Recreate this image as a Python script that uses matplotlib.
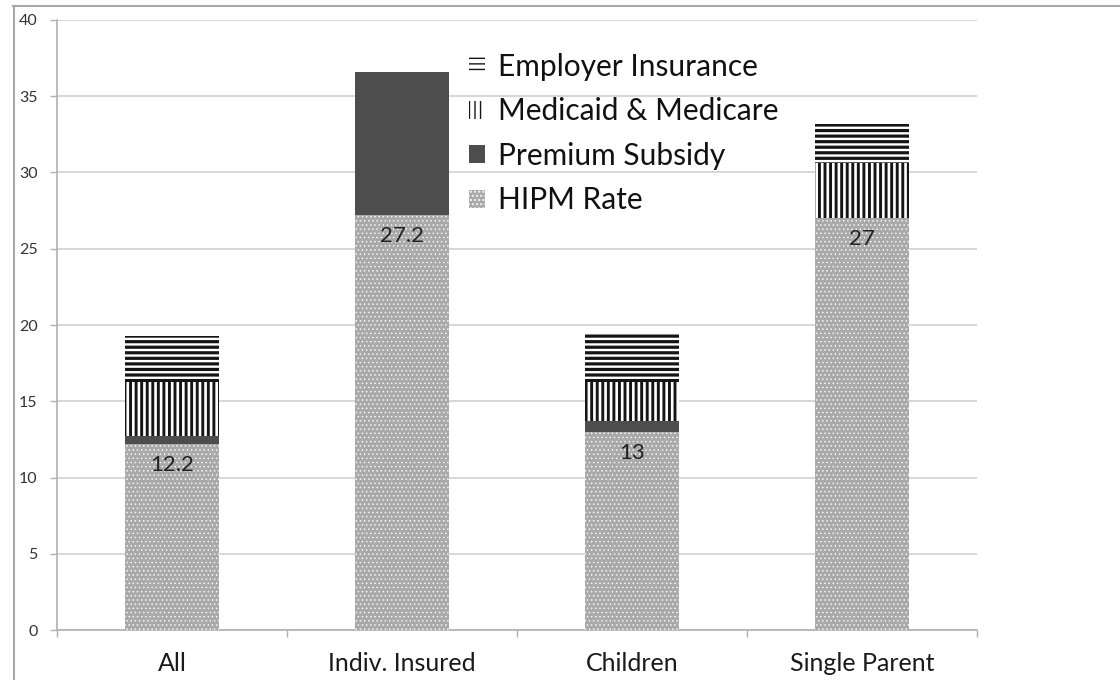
import matplotlib
matplotlib.use("Agg")
import matplotlib.pyplot as plt
from matplotlib.lines import Line2D
import numpy as np

plt.rcParams['font.family'] = ['Lato', 'DejaVu Sans']

groups = ['All', 'Indiv. Insured', 'Children', 'Single Parent']
hipm_rate = [12.2, 27.2, 13, 27]
premium_subsidy = [0.55, 9.4, 0.7, 0.0]
medicaid_medicare = [3.5, 0.0, 2.55, 3.6]
employer_insurance = [3.05, 0.0, 3.2, 2.6]

fig = plt.figure(figsize=(11.2, 6.8), dpi=100)
ax = fig.add_axes([0.0509, 0.0735, 0.8214, 0.8971])

x = np.arange(len(groups))
w = 0.405


def hatched(bars, lw):
    for b in bars:
        if hasattr(b, 'set_hatch_linewidth'):
            b.set_hatch_linewidth(lw)


bottom = np.zeros(len(groups))
b1 = ax.bar(x, hipm_rate, w, bottom=bottom, facecolor='#a9a9a9',
            edgecolor='#f4f4f4', linewidth=0, hatch='....', label='HIPM Rate', zorder=3)
hatched(b1, 0.6)
bottom += hipm_rate
b2 = ax.bar(x, premium_subsidy, w, bottom=bottom, color='#4d4d4d',
            linewidth=0, label='Premium Subsidy', zorder=3)
bottom += premium_subsidy
b3 = ax.bar(x, medicaid_medicare, w, bottom=bottom, facecolor='white',
            edgecolor='#151515', linewidth=0, hatch='|||', label='Medicaid & Medicare', zorder=3)
hatched(b3, 2.1)
bottom += medicaid_medicare
b4 = ax.bar(x, employer_insurance, w, bottom=bottom, facecolor='white',
            edgecolor='#151515', linewidth=0, hatch='---', label='Employer Insurance', zorder=3)
hatched(b4, 2.3)

for xi, v in zip(x, hipm_rate):
    ax.annotate(f'{v:g}', (xi, v), xytext=(0, -15), textcoords='offset points',
                ha='center', va='center', fontsize=16, color='#222222', zorder=4)

ax.set_ylim(0, 40)
ax.set_xlim(-0.5, 3.5)
ax.set_yticks(range(0, 41, 5))
ax.yaxis.grid(True, color='#d4d4d4', linewidth=1.3, zorder=0)
ax.tick_params(axis='y', direction='out', length=5, width=1, color='#b0b0b0',
               pad=9, labelsize=11.5, labelcolor='#333333')

ax.set_xticks([-0.5, 0.5, 1.5, 2.5, 3.5])
ax.set_xticklabels([])
ax.tick_params(axis='x', which='major', direction='out', length=5, width=1, color='#b0b0b0')
ax.set_xticks(x, minor=True)
ax.set_xticklabels(groups, minor=True)
ax.tick_params(axis='x', which='minor', length=0, pad=16, labelsize=18, labelcolor='#1a1a1a')

for side in ['top', 'right']:
    ax.spines[side].set_visible(False)
for side in ['left', 'bottom']:
    ax.spines[side].set_color('#b0b0b0')
    ax.spines[side].set_linewidth(1.2)

handles = [b4, b3, b2, b1]
ax.legend(handles, [h.get_label() for h in handles], loc='upper left',
          bbox_to_anchor=(0.405, 0.944), bbox_transform=fig.transFigure,
          frameon=False, borderpad=0, fontsize=21.5, handlelength=0.55, handleheight=0.55,
          handletextpad=0.45, labelspacing=0.55, labelcolor='#111111')

# outer frame lines along the top and left edges
fig.add_artist(Line2D([0.0118, 1.0], [0.991, 0.991], transform=fig.transFigure,
                      color='#a8a8a8', linewidth=1.5))
fig.add_artist(Line2D([0.0125, 0.0125], [0.0, 0.991], transform=fig.transFigure,
                      color='#a8a8a8', linewidth=1.5))

fig.savefig('out.png', dpi=100)
